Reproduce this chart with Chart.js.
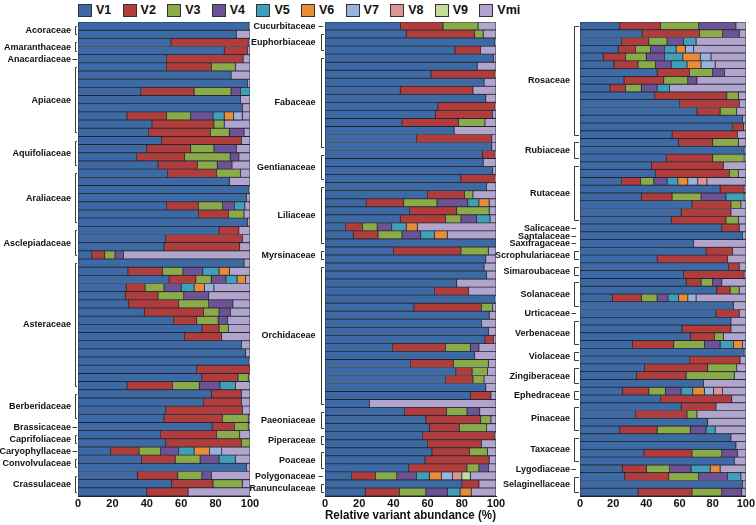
<!DOCTYPE html>
<html>
<head>
<meta charset="utf-8">
<script src="https://cdn.jsdelivr.net/npm/chart.js@4.4.0/dist/chart.umd.min.js"></script>
<style>
  body{margin:0;background:#fff;width:756px;height:525px;position:relative;overflow:hidden;font-family:"Liberation Sans",Arial,sans-serif}
  canvas{position:absolute;left:0;top:0}
  #legend{position:absolute;left:78px;top:3px;display:flex}
  .item{width:44.6px;display:flex;align-items:center;font-weight:bold;font-size:12.5px;color:#111;line-height:14px}
  .box{width:14px;height:13px;border:1px solid #333;margin-right:4px;box-sizing:border-box}
</style>
</head>
<body>
<div id="legend"></div>
<canvas id="c1" width="756" height="525"></canvas>
<canvas id="c2" width="756" height="525"></canvas>
<canvas id="c3" width="756" height="525"></canvas>
<script>
const variants = ['V1','V2','V3','V4','V5','V6','V7','V8','V9','Vmi'];
const colors = ['#3d6aa4','#b03c3c','#8aab48','#6e5296','#40a0b9','#e88c37','#9bb2de','#da9696','#c3dc96','#b2a5cd'];
const xTicks = [0,20,40,60,80,100];

// family name, number of bars (top to bottom)
const leftFamilies = [['Acoraceae',2],['Amaranthaceae',2],['Anacardiaceae',1],['Apiaceae',9],['Aquifoliaceae',4],
  ['Araliaceae',7],['Asclepiadaceae',4],['Asteraceae',16],['Berberidaceae',4],['Brassicaceae',1],
  ['Caprifoliaceae',2],['Caryophyllaceae',1],['Convolvulaceae',2],['Crassulaceae',3]];
const midFamilies = [['Cucurbitaceae',1],['Euphorbiaceae',3],['Fabaceae',12],['Gentianaceae',4],['Liliaceae',8],
  ['Myrsinaceae',2],['Orchidaceae',18],['Paeoniaceae',3],['Piperaceae',2],['Poaceae',3],['Polygonaceae',1],['Ranunculaceae',2]];
const rightFamilies = [['Rosaceae',15],['Rubiaceae',3],['Rutaceae',8],['Salicaceae',1],['Santalaceae',1],['Saxifragaceae',1],
  ['Scrophulariaceae',2],['Simaroubaceae',2],['Solanaceae',4],['Urticaceae',1],['Verbenaceae',4],['Violaceae',2],
  ['Zingiberaceae',3],['Ephedraceae',2],['Pinaceae',4],['Taxaceae',4],['Lygodiaceae',1],['Selaginellaceae',3]];

// each row: V1..V9, Vmi (%)
const leftBars = [
  [99.5,0,0,0,0,0,0,0,0,0.5],[92,0,0,0,0,0,0,0,0,8],[54,45,0,0,0,0,0,0,0,1],[85,13.5,0,0,0,0,0,0,0,1.5],
  [51.5,44.5,0,0,0,0,0,0,0,4],[51.5,26,14,0,0,0,0,0,0,8.5],[89,0,0,0,0,0,0,0,0,11],[98.5,0,0,0,0,0,0,0,0,1.5],
  [36.5,31,21.5,5.5,5.5,0,0,0,0,0],[94.5,0,0,0,0,0,0,0,0,5.5],[95.5,0,0,0,0,0,0,0,0,4.5],[28.5,23,14,13,6.5,5.5,5,0,0,4.5],
  [43,36,6,0,0,0,0,0,0,15],[41,36,11,8.5,0,0,0,0,0,3.5],[48.5,46.5,0,0,0,0,0,0,0,5],[40,25.5,13.5,13,0,0,0,0,0,8],
  [34,28,26.5,5,0,0,0,0,0,6.5],[46.5,23,11.5,8.5,0,0,0,0,0,10.5],[52,28.5,14,0,0,0,0,0,0,5.5],[88,0,0,0,0,0,0,0,0,12],
  [99,0,0,0,0,0,0,0,0,1],[98,0,0,0,0,0,0,0,0,2],[51.5,18.5,14,7,6,0,0,0,0,3],[70,17.5,9,0,0,0,0,0,0,3.5],
  [98.5,0,0,0,0,0,0,0,0,1.5],[82,11.5,0,0,0,0,0,0,0,6.5],[51,44.5,0,0,0,0,0,0,0,4.5],[50,44,0,0,0,0,0,0,0,6],
  [8,7.5,6,5,0,0,0,0,0,73.5],[96.5,0,0,0,0,0,0,0,0,3.5],[29,20,12,11.5,9.5,6,0,0,0,12],[53,15.5,9,8.5,6.5,5,0,0,0,2.5],
  [28,11,11,10,7.5,6,5.5,0,0,21],[27.5,19,15,14.5,0,0,0,0,0,24],[29.5,29,17.5,14,0,0,0,0,0,10],[38.5,34.5,9,6.5,0,0,0,0,0,11.5],
  [55.5,13.5,12.5,5.5,0,0,0,0,0,13],[72,10,5.5,0,0,0,0,0,0,12.5],[62,21.5,0,0,0,0,0,0,0,16.5],[95,0,0,0,0,0,0,0,0,5],
  [97.5,0,0,0,0,0,0,0,0,2.5],[99.5,0,0,0,0,0,0,0,0,0.5],[69,31,0,0,0,0,0,0,0,0],[72,21,6,0,0,0,0,0,0,1],
  [28.5,26.5,15.5,12,9,0,0,0,0,8.5],[77.5,17.5,0,0,0,0,0,0,0,5],[73,22,0,0,0,0,0,0,0,5],[51,44.5,0,0,0,0,0,0,0,4.5],
  [50,34,15,0,0,0,0,0,0,1],[78,13,8,0,0,0,0,0,0,1],[48,32.5,13.5,0,0,0,0,0,0,6],[51,44,5,0,0,0,0,0,0,0],
  [19,16.5,12.5,10.5,9,9,7,0,0,16.5],[37,19.5,14.5,11,9.5,0,0,0,0,8.5],[98,0,0,0,0,0,0,0,0,2],[34.5,23.5,14,5.5,0,0,0,0,0,22.5],
  [54.5,24,17,0,0,0,0,0,0,4.5],[40,24,0,0,0,0,0,0,0,36]
];
const midBars = [
  [44,25,20.5,0,0,0,0,0,0,10.5],[47.5,40,5,0,0,0,0,0,0,7.5],[99,0,0,0,0,0,0,0,0,1],[76,15,0,0,0,0,0,0,0,9],
  [98.5,0,0,0,0,0,0,0,0,1.5],[89,0,0,0,0,0,0,0,0,11],[62,37.5,0,0,0,0,0,0,0,0.5],[93,0,0,0,0,0,0,0,0,7],
  [44,42.5,0,0,0,0,0,0,0,13.5],[94,0,0,0,0,0,0,0,0,6],[66,33.5,0,0,0,0,0,0,0,0.5],[64.5,33.5,0,0,0,0,0,0,0,2],
  [45,33,15.5,0,0,0,0,0,0,6.5],[75.5,0,0,0,0,0,0,0,0,24.5],[53.5,44,0,0,0,0,0,0,0,2.5],[97.5,0,0,0,0,0,0,0,0,2.5],
  [92,7.5,0,0,0,0,0,0,0,0.5],[92.5,0,0,0,0,0,0,0,0,7.5],[98,0,0,0,0,0,0,0,0,2],[79.5,20,0,0,0,0,0,0,0,0.5],
  [94.5,0,0,0,0,0,0,0,0,5.5],[60,21.5,5,0,0,0,0,0,0,13.5],[24,22,19.5,18,6.5,6,0,0,0,4],[49.5,27.5,19,0,0,0,0,0,0,4],
  [44,26.5,9,9,8,0,0,0,0,3.5],[12,10,8.5,8.5,8.5,6.5,0,0,0,46],[16.5,14.5,14,11,8,7.5,0,0,0,28.5],[100,0,0,0,0,0,0,0,0,0],
  [40,39.5,16,0,0,0,0,0,0,4.5],[94,0,0,0,0,0,0,0,0,6],[93,0,0,0,0,0,0,0,0,7],[94.5,0,0,0,0,0,0,0,0,5.5],
  [77,0,0,0,0,0,0,0,0,23],[64,20,0,0,0,0,0,0,0,16],[99.5,0,0,0,0,0,0,0,0,0.5],[52,39.5,6.5,0,0,0,0,0,0,2],
  [96,0,0,0,0,0,0,0,0,4],[91.5,0,0,0,0,0,0,0,0,8.5],[95.5,0,0,0,0,0,0,0,0,4.5],[93.5,5,0,0,0,0,0,0,0,1.5],
  [39.5,31,14.5,5,0,0,0,0,0,10],[87.5,0,0,0,0,0,0,0,0,12.5],[50,25,20.5,0,0,0,0,0,0,4.5],[76.5,9.5,9,0,0,0,0,0,0,5],
  [70.5,16,6.5,0,0,0,0,0,0,7],[94,0,0,0,0,0,0,0,0,6],[85,12,0,0,0,0,0,0,0,3],[26,0,0,0,0,0,0,0,0,74],
  [46.5,24.5,12,7.5,0,0,0,0,0,9.5],[59,32,6,0,0,0,0,0,0,3],[61,17.5,16,0,0,0,0,0,0,5.5],[57,42,0,0,0,0,0,0,0,1],
  [60,31.5,0,0,0,0,0,0,0,8.5],[62.5,22,10.5,0,0,0,0,0,0,5],[58.5,37.5,0,0,0,0,0,0,0,4],[49,34,7,5.5,0,0,0,0,0,4.5],
  [15.5,14,12.5,11.5,7.5,7,6.5,5.5,5,15],[80,10,0,0,0,0,0,0,0,10],[23.5,20,15.5,12.5,7.5,6.5,0,0,0,14.5]
];
const rightBars = [
  [24,24.5,23,22.5,0,0,0,0,0,6],[37.5,34.5,14,10,0,0,0,0,0,4],[25,16.5,11,10,7.5,0,0,0,0,30],[23,10.5,9,8.5,7,5.5,5,0,0,31.5],
  [14,13.5,12.5,11,11,10.5,6.5,0,0,21],[20.5,14.5,10.5,9.5,9.5,8.5,8.5,0,0,18.5],[46.5,19.5,14,7,0,0,0,0,0,13],[26.5,24,14.5,5.5,0,0,0,0,0,29.5],
  [18,9.5,9.5,9.5,7.5,0,0,0,0,46],[45,43.5,7,0,0,0,0,0,0,4.5],[60,36,0,0,0,0,0,0,0,4],[70.5,14,10,0,0,0,0,0,0,5.5],
  [98,0,0,0,0,0,0,0,0,2],[92,6.5,0,0,0,0,0,0,0,1.5],[55.5,39.5,0,0,0,0,0,0,0,5],[59.5,20.5,15.5,0,0,0,0,0,0,4.5],
  [99,0,0,0,0,0,0,0,0,1],[52,28,19,0,0,0,0,0,0,1],[43,43.5,0,0,0,0,0,0,0,13.5],[45.5,44.5,5.5,0,0,0,0,0,0,4.5],
  [25,11.5,8,8,6.5,6,6,5.5,0,23.5],[84.5,14.5,0,0,0,0,0,0,0,1],[37,18.5,17.5,15,11,0,0,0,0,1],[67.5,23.5,6,0,0,0,0,0,0,3],
  [61,30,0,0,0,0,0,0,0,9],[55,33,7.5,0,0,0,0,0,0,4.5],[85.5,10.5,0,0,0,0,0,0,0,4],[98,0,0,0,0,0,0,0,0,2],
  [68.5,0,0,0,0,0,0,0,0,31.5],[76,16,0,0,0,0,0,0,0,8],[46.5,42.5,0,0,0,0,0,0,0,11],[89.5,6.5,0,0,0,0,0,0,0,4],
  [62.5,36.5,0,0,0,0,0,0,0,1],[64,9,7,5.5,0,0,0,0,0,14.5],[82.5,8,5.5,0,0,0,0,0,0,4],[19.5,17.5,9.5,6.5,6.5,5.5,5,0,0,30],
  [92.5,0,0,0,0,0,0,0,0,7.5],[82,14,0,0,0,0,0,0,0,4],[91,0,0,0,0,0,0,0,0,9],[61.5,29.5,0,0,0,0,0,0,0,9],
  [66.5,14.5,5.5,0,0,0,0,0,0,13.5],[31.5,25,18.5,9.5,8,5.5,0,0,0,2],[99,0,0,0,0,0,0,0,0,1],[66,30.5,0,0,0,0,0,0,0,3.5],
  [39,38,17.5,0,0,0,0,0,0,5.5],[34,30,29,0,0,0,0,0,0,7],[74.5,0,0,0,0,0,0,0,0,25.5],[25.5,16,10,9.5,7,7,5.5,5.5,0,14],
  [48.5,43,0,0,0,0,0,0,0,8.5],[61,21,0,0,0,0,0,0,0,18],[33.5,31,6,0,0,0,0,0,0,29.5],[77,0,0,0,0,0,0,0,0,23],
  [24,22.5,20,9.5,5.5,0,0,0,0,18.5],[91,0,0,0,0,0,0,0,0,9],[94,0,0,0,0,0,0,0,0,6],[38.5,29,18,9.5,0,0,0,0,0,5],
  [93,0,0,0,0,0,0,0,0,7],[25.5,14.5,14,13,11.5,6,0,0,0,15.5],[27,26.5,18,17.5,8,0,0,0,0,3],[98,0,0,0,0,0,0,0,0,2],
  [35,32.5,18,12,0,0,0,0,0,2.5]
];

// legend
const legendEl = document.getElementById('legend');
variants.forEach((v,k)=>{
  const it = document.createElement('div'); it.className='item';
  it.innerHTML = '<span class="box" style="background:'+colors[k]+'"></span><span>'+v+'</span>';
  legendEl.appendChild(it);
});

const LABEL_FONT = 'bold 9px "Liberation Sans Narrow", "Liberation Sans", Arial, sans-serif';

// family brackets and names to the left of each panel
const familyPlugin = {
  id: 'families',
  afterDraw(chart, args, opts){
    const {ctx, chartArea} = chart;
    const y = chart.scales.y;
    const left = chartArea.left;
    const bx = Math.round(left - opts.gap) + 0.5;
    ctx.save();
    ctx.strokeStyle = '#3a3a3a';
    ctx.lineWidth = 1;
    ctx.fillStyle = '#111';
    ctx.font = LABEL_FONT;
    ctx.textAlign = 'right';
    ctx.textBaseline = 'middle';
    let i = 0;
    for (const [name, n] of opts.list){
      const y0 = y.getPixelForValue(i), y1 = y.getPixelForValue(i + n - 1);
      ctx.beginPath();
      if (n === 1){
        ctx.moveTo(bx - 3, Math.round(y0) + 0.5); ctx.lineTo(bx + 1.5, Math.round(y0) + 0.5);
      } else {
        ctx.moveTo(left - 1, Math.round(y0) + 0.5); ctx.lineTo(bx, Math.round(y0) + 0.5);
        ctx.lineTo(bx, Math.round(y1) + 0.5); ctx.lineTo(left - 1, Math.round(y1) + 0.5);
      }
      ctx.stroke();
      ctx.fillText(name, left - opts.textGap, (y0 + y1) / 2 + 0.5);
      i += n;
    }
    ctx.restore();
  }
};

function makePanel(id, rows, families, left, right, gap, textGap, showTitle){
  const datasets = variants.map((v,k)=>({
    label: v,
    data: rows.map(r => r[k] === 0 ? null : r[k]),
    backgroundColor: colors[k],
    borderColor: 'rgba(25,28,40,0.9)',
    borderWidth: 0.8,
    borderSkipped: false,
    barPercentage: 1,
    categoryPercentage: 1
  }));
  return new Chart(document.getElementById(id), {
    type: 'bar',
    data: { labels: rows.map((r,i)=>String(i+1)), datasets },
    options: {
      indexAxis: 'y',
      responsive: false,
      animation: false,
      layout: { padding: { left: left, right: 756 - right, top: 22, bottom: 0 } },
      plugins: {
        legend: { display: false },
        tooltip: { enabled: false },
        families: { list: families, gap: gap, textGap: textGap }
      },
      scales: {
        x: {
          stacked: true, min: 0, max: 100,
          afterBuildTicks: s => { s.ticks = xTicks.map(v => ({value: v})); },
          ticks: { color: '#111', padding: 1, font: { family: '"Liberation Sans", Arial, sans-serif', size: 11, weight: 'bold' } },
          grid: { display: false, drawTicks: false },
          border: { display: true, color: '#222', width: 1 },
          title: { display: showTitle, text: 'Relative variant abundance (%)', color: '#111',
                   padding: { top: 0, bottom: 2 }, font: { family: '"Liberation Sans", Arial, sans-serif', size: 13, weight: 'bold' } },
          afterFit: s => { s.height = 29; }
        },
        y: { stacked: true, display: false }
      }
    },
    plugins: [familyPlugin]
  });
}

makePanel('c1', leftBars, leftFamilies, 78, 250, 3, 7, false);
makePanel('c2', midBars, midFamilies, 325, 496, 4.5, 9.5, true);
makePanel('c3', rightBars, rightFamilies, 580, 750, 6, 10, false);
</script>
</body>
</html>
